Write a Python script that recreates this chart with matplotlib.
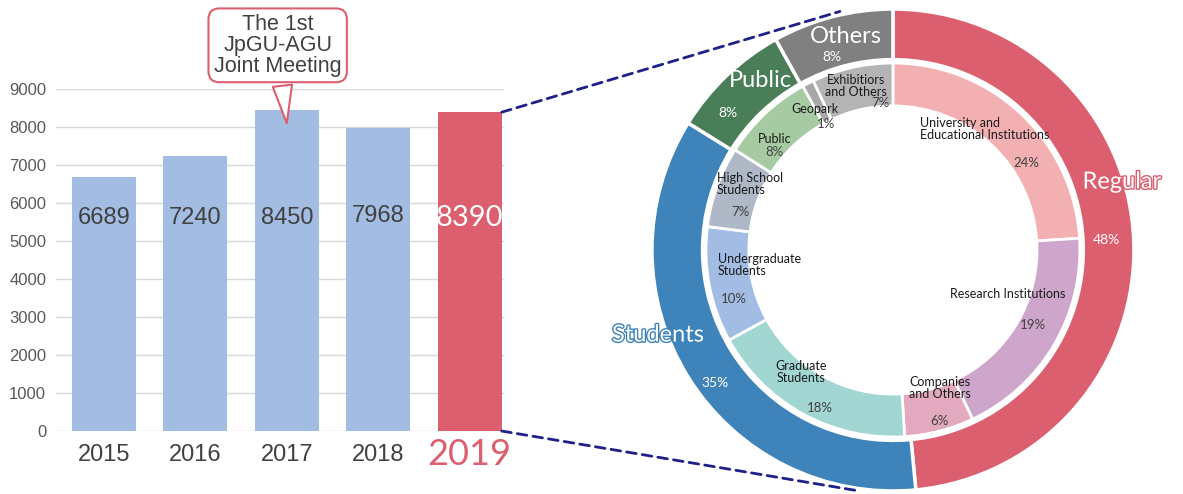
import matplotlib
matplotlib.use("Agg")
import matplotlib.pyplot as plt
import matplotlib.patheffects as pe
from matplotlib.patches import ConnectionPatch

# bar chart data
years = ['2015', '2016', '2017', '2018', '2019']
participants = [6689, 7240, 8450, 7968, 8390]

# donut data (percent)
outer_labels = ['Regular', 'Students', 'Public', 'Others']
outer_pct = [48, 35, 8, 8]
inner_labels = ['University and\nEducational Institutions', 'Research Institutions',
                'Companies\nand Others', 'Graduate\nStudents', 'Undergraduate\nStudents',
                'High School\nStudents', 'Public', 'Geopark', 'Exhibitiors\nand Others']
inner_pct = [24, 19, 6, 18, 10, 7, 8, 1, 7]

RED = '#DC5F6F'
BLUE_BAR = '#A3BCE1'
outer_colors = [RED, '#3E83B9', '#4A7E58', '#808080']
inner_colors = ['#F3B0B2', '#CFA6CB', '#E3A9BE', '#A2D6D2', '#A2BCE3',
                '#AFB8C7', '#A6CBA2', '#A8A8A8', '#B4B4B4']

fig = plt.figure(figsize=(11.83, 4.94), dpi=100)

# ---- bar chart
ax = fig.add_axes([0.0473, 0.1275, 0.3787, 0.6923])
bar_colors = [BLUE_BAR] * 4 + [RED]
x = list(range(len(years)))
BW = 0.70
ax.bar(x, participants, width=BW, color=bar_colors, zorder=2)
ax.set_xlim(-0.525, 4.375)
ax.set_ylim(0, 9000)
ax.set_yticks(range(0, 9001, 1000))
ax.yaxis.grid(True, color='#D9D9D9', lw=1, zorder=0)
for s in ax.spines.values():
    s.set_visible(False)
ax.tick_params(axis='y', length=0, pad=7, labelsize=12, labelcolor='#595959')
for t in ax.get_yticklabels():
    t.set_family('Liberation Sans')
ax.set_xticks(x)
ax.set_xticklabels(years)
ax.tick_params(axis='x', length=0, pad=17)
for i, t in enumerate(ax.get_xticklabels()):
    t.set_va('center')
    if i == 4:
        t.set_family('Lato')
        t.set_fontsize(26)
        t.set_color(RED)
    else:
        t.set_family('Liberation Sans')
        t.set_fontsize(17)
        t.set_color('#404040')

for i, v in enumerate(participants):
    if i == 4:
        ax.text(i, 5600, str(v), ha='center', va='center', fontsize=21,
                family='Lato', color='white', zorder=3)
    else:
        yy = 5650 if i == 3 else 5600
        ax.text(i, yy, str(v), ha='center', va='center', fontsize=17,
                family='Liberation Sans', color='#404040', zorder=3)

ax.annotate('The 1st\nJpGU-AGU\nJoint Meeting', xy=(2.0, 8100), xytext=(1.9, 10150),
            ha='center', va='center', fontsize=15.5, family='Liberation Sans',
            color='#404040', linespacing=1.0, annotation_clip=False,
            bbox=dict(boxstyle='round,pad=0.25,rounding_size=0.5', fc='white',
                      ec=RED, lw=1.5),
            arrowprops=dict(arrowstyle='wedge,tail_width=0.9,shrink_factor=0.5',
                            fc='white', ec=RED, lw=1.5, shrinkB=0), zorder=5)

# ---- donut
ax2 = fig.add_axes([0.5511, 0.00607, 0.4074, 0.9757])
ax2.pie(outer_pct, radius=1, startangle=90, counterclock=False, colors=outer_colors,
        wedgeprops=dict(width=0.21, edgecolor='white', linewidth=2.5))
ax2.pie(inner_pct, radius=0.776, startangle=90, counterclock=False, colors=inner_colors,
        wedgeprops=dict(width=0.178, edgecolor='white', linewidth=2))
ax2.set_xlim(-1, 1)
ax2.set_ylim(-1, 1)
ax2.axis('off')

# outer labels: name position, pct position, outline colour
outer_pos = [((0.95, 0.282), (0.888, 0.041), RED),
             ((-0.975, -0.353), (-0.739, -0.552), '#3E83B9'),
             ((-0.552, 0.705), (-0.685, 0.568), None),
             ((-0.195, 0.884), (-0.253, 0.801), None)]
for name, pct, (p1, p2, oc) in zip(outer_labels, outer_pct, outer_pos):
    effects = [pe.withStroke(linewidth=2, foreground=oc)] if oc else None
    ax2.text(*p1, name, ha='center', va='center', fontsize=17, family='Lato',
             color='white', path_effects=effects)
    ax2.text(*p2, f'{pct}%', ha='center', va='center', fontsize=10, family='Lato',
             color='white')

# inner labels: name position, align, pct position
inner_pos = [((0.112, 0.502), 'left', (0.556, 0.361)),
             ((0.477, -0.183), 'center', (0.581, -0.311)),
             ((0.195, -0.573), 'center', (0.191, -0.71)),
             ((-0.382, -0.506), 'center', (-0.303, -0.656)),
             ((-0.726, -0.062), 'left', (-0.66, -0.203)),
             ((-0.73, 0.274), 'left', (-0.631, 0.158)),
             ((-0.49, 0.46), 'center', (-0.49, 0.405)),
             ((-0.324, 0.585), 'center', (-0.278, 0.523)),
             ((-0.154, 0.68), 'center', (-0.054, 0.61))]
for name, pct, (p1, ha, p2) in zip(inner_labels, inner_pct, inner_pos):
    ax2.text(*p1, name, ha=ha, va='center', fontsize=9, family='Lato',
             color='#1A1A1A', linespacing=0.95)
    ax2.text(*p2, f'{pct}%', ha='center', va='center', fontsize=9.5, family='Lato',
             color='#404040')

# dashed connectors
for yb, pt in [(participants[4], (-0.22, 0.99)), (0, (-0.14, -1.0))]:
    con = ConnectionPatch(xyA=(4 + BW / 2, yb), coordsA=ax.transData, xyB=pt,
                          coordsB=ax2.transData, color='#20208A', lw=2,
                          linestyle=(0, (3.5, 2.2)))
    fig.add_artist(con)

fig.savefig('out.png', dpi=100)
